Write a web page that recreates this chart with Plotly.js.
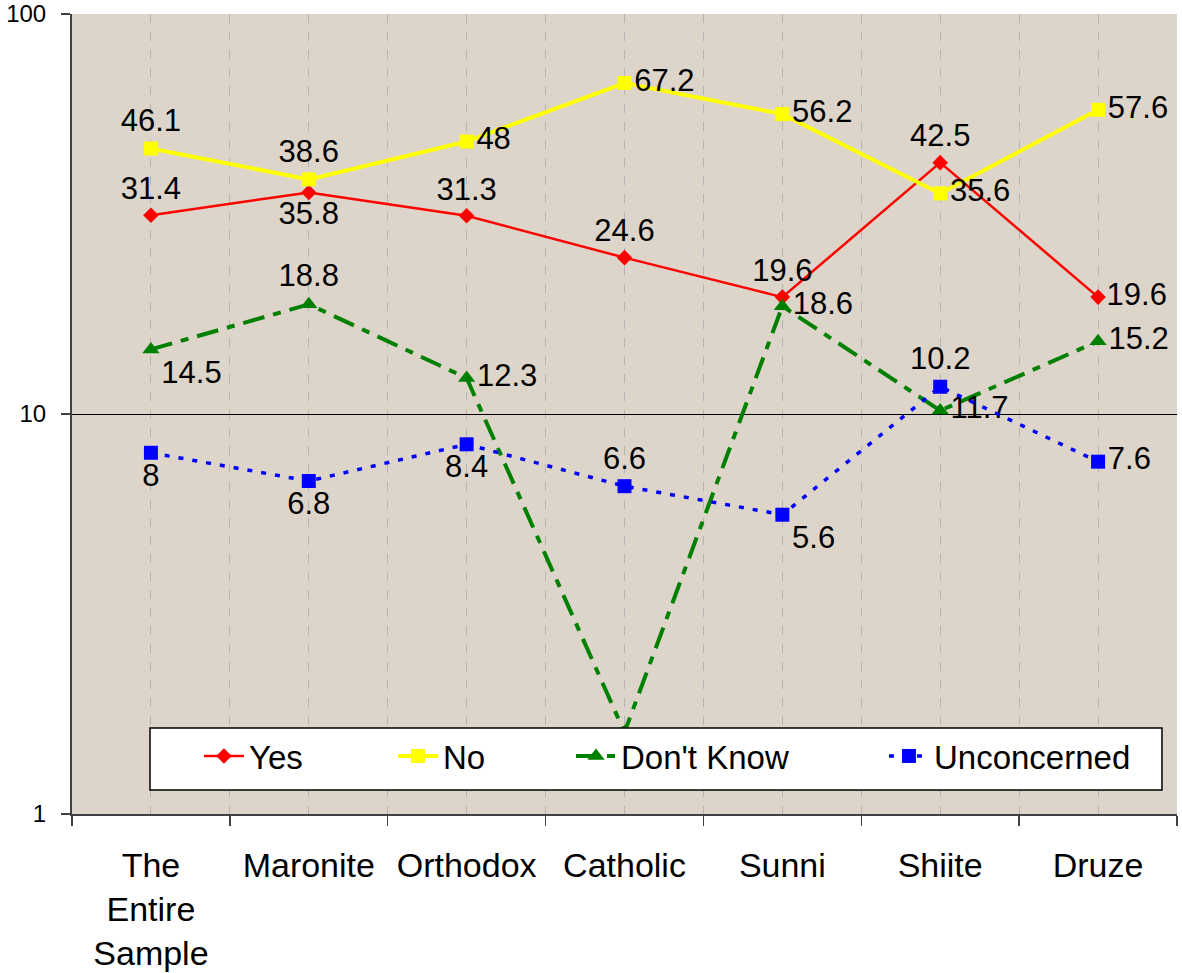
<!DOCTYPE html>
<html>
<head>
<meta charset="utf-8">
<script src="https://cdn.plot.ly/plotly-3.0.1.min.js"></script>
<style>
html,body{margin:0;padding:0;background:#fff;}
#chart{width:1182px;height:973px;}
</style>
</head>
<body>
<div id="chart"></div>
<script>
const categories = ["The<br>Entire<br>Sample", "Maronite", "Orthodox", "Catholic", "Sunni", "Shiite", "Druze"];
const seriesNames = ["Yes", "No", "Don't Know", "Unconcerned"];

const yesValues = [31.4, 35.8, 31.3, 24.6, 19.6, 42.5, 19.6];
const noValues = [46.1, 38.6, 48, 67.2, 56.2, 35.6, 57.6];
const dontKnowValues = [14.5, 18.8, 12.3, 1.6, 18.6, 10.2, 15.2];
const unconcernedValues = [8, 6.8, 8.4, 6.6, 5.6, 11.7, 7.6];

// data labels as printed on the chart
const yesLabels = ["31.4", "35.8", "31.3", "24.6", "19.6", "42.5", "19.6"];
const noLabels = ["46.1", "38.6", "48", "67.2", "56.2", "35.6", "57.6"];
const dontKnowLabels = ["14.5", "18.8", "12.3", "", "18.6", "11.7", "15.2"];
const unconcernedLabels = ["8", "6.8", "8.4", "6.6", "5.6", "10.2", "7.6"];

const yTickVals = [1, 10, 100];
const yTickText = ["1", "10", "100"];

const idx = categories.map((c, i) => i);
const boundaries = categories.map((c, i) => i - 0.5).concat([categories.length - 0.5]);

const FONT = "Arial, 'Liberation Sans', sans-serif";
const labelFont = {family: FONT, size: 31, color: "#000"};

const traces = [
  {
    x: idx, y: yesValues, name: seriesNames[0], type: "scatter", mode: "lines+markers+text",
    legend: "legend",
    text: yesLabels,
    textposition: ["top center", "bottom center", "top center", "top center", "top center", "top center", "middle right"],
    textfont: labelFont,
    line: {color: "#ff0000", width: 2.5},
    marker: {symbol: "diamond", size: 12, color: "#ff0000"}
  },
  {
    x: idx, y: noValues, name: seriesNames[1], type: "scatter", mode: "lines+markers+text",
    legend: "legend2",
    text: noLabels,
    textposition: ["top center", "top center", "middle right", "middle right", "middle right", "middle right", "middle right"],
    textfont: labelFont,
    line: {color: "#ffff00", width: 4},
    marker: {symbol: "square", size: 14, color: "#ffff00"}
  },
  {
    x: idx, y: dontKnowValues, name: seriesNames[2], type: "scatter", mode: "lines+markers+text",
    legend: "legend3",
    text: dontKnowLabels,
    textposition: ["bottom right", "top center", "middle right", "middle right", "middle right", "middle right", "middle right"],
    textfont: labelFont,
    line: {color: "#008000", width: 4, dash: "22px,9px,8px,9px"},
    marker: {symbol: "triangle-up", size: 15, color: "#008000"}
  },
  {
    x: idx, y: unconcernedValues, name: seriesNames[3], type: "scatter", mode: "lines+markers+text",
    legend: "legend4",
    text: unconcernedLabels,
    textposition: ["bottom center", "bottom center", "bottom center", "top center", "bottom right", "top center", "middle right"],
    textfont: labelFont,
    line: {color: "#0000ff", width: 3.5, dash: "5px,9px"},
    marker: {symbol: "square", size: 14, color: "#0000ff"}
  }
];

function legendAt(xPaper) {
  return {
    orientation: "h",
    x: xPaper, xanchor: "left",
    y: 0.1075, yanchor: "top",
    bgcolor: "rgba(0,0,0,0)", borderwidth: 0,
    font: {family: FONT, size: 33, color: "#000"},
    itemwidth: 40
  };
}

const layout = {
  width: 1182, height: 973,
  margin: {l: 72, r: 5, t: 14, b: 159, pad: 0},
  paper_bgcolor: "#ffffff",
  plot_bgcolor: "#ddd5c9",
  showlegend: true,
  font: {family: FONT, color: "#000"},
  xaxis: {
    type: "linear",
    range: [-0.5, categories.length - 0.5],
    tickvals: idx,
    ticktext: categories,
    ticks: "",
    ticklabelstandoff: 20,
    tickfont: {family: FONT, size: 34, color: "#000"},
    showgrid: true, gridcolor: "#b4b4b4", gridwidth: 1, griddash: "dash",
    zeroline: false,
    showline: true, linecolor: "#404040", linewidth: 2,
    minor: {
      tickvals: boundaries, ticks: "outside", ticklen: 10, tickcolor: "#404040", tickwidth: 1.5,
      showgrid: true, gridcolor: "#b4b4b4", gridwidth: 1, griddash: "dash"
    },
    fixedrange: true
  },
  yaxis: {
    type: "log",
    range: [0, 2],
    tickvals: yTickVals,
    ticktext: yTickText,
    ticks: "outside", ticklen: 9, tickcolor: "#404040", tickwidth: 1.5,
    ticklabelstandoff: 10,
    tickfont: {family: FONT, size: 24, color: "#000"},
    showgrid: true, gridcolor: "#000000", gridwidth: 1,
    zeroline: false,
    showline: true, linecolor: "#404040", linewidth: 2,
    fixedrange: true
  },
  legend: legendAt(0.1149),
  legend2: legendAt(0.2905),
  legend3: legendAt(0.4516),
  legend4: legendAt(0.7348),
  shapes: [
    {
      type: "rect", xref: "paper", yref: "paper", layer: "above",
      x0: 0.0706, x1: 0.9864, y0: 0.03, y1: 0.1075,
      fillcolor: "#ffffff", line: {color: "#000000", width: 1.5}
    }
  ]
};

Plotly.newPlot("chart", traces, layout, {displayModeBar: false, staticPlot: true});
</script>
</body>
</html>
